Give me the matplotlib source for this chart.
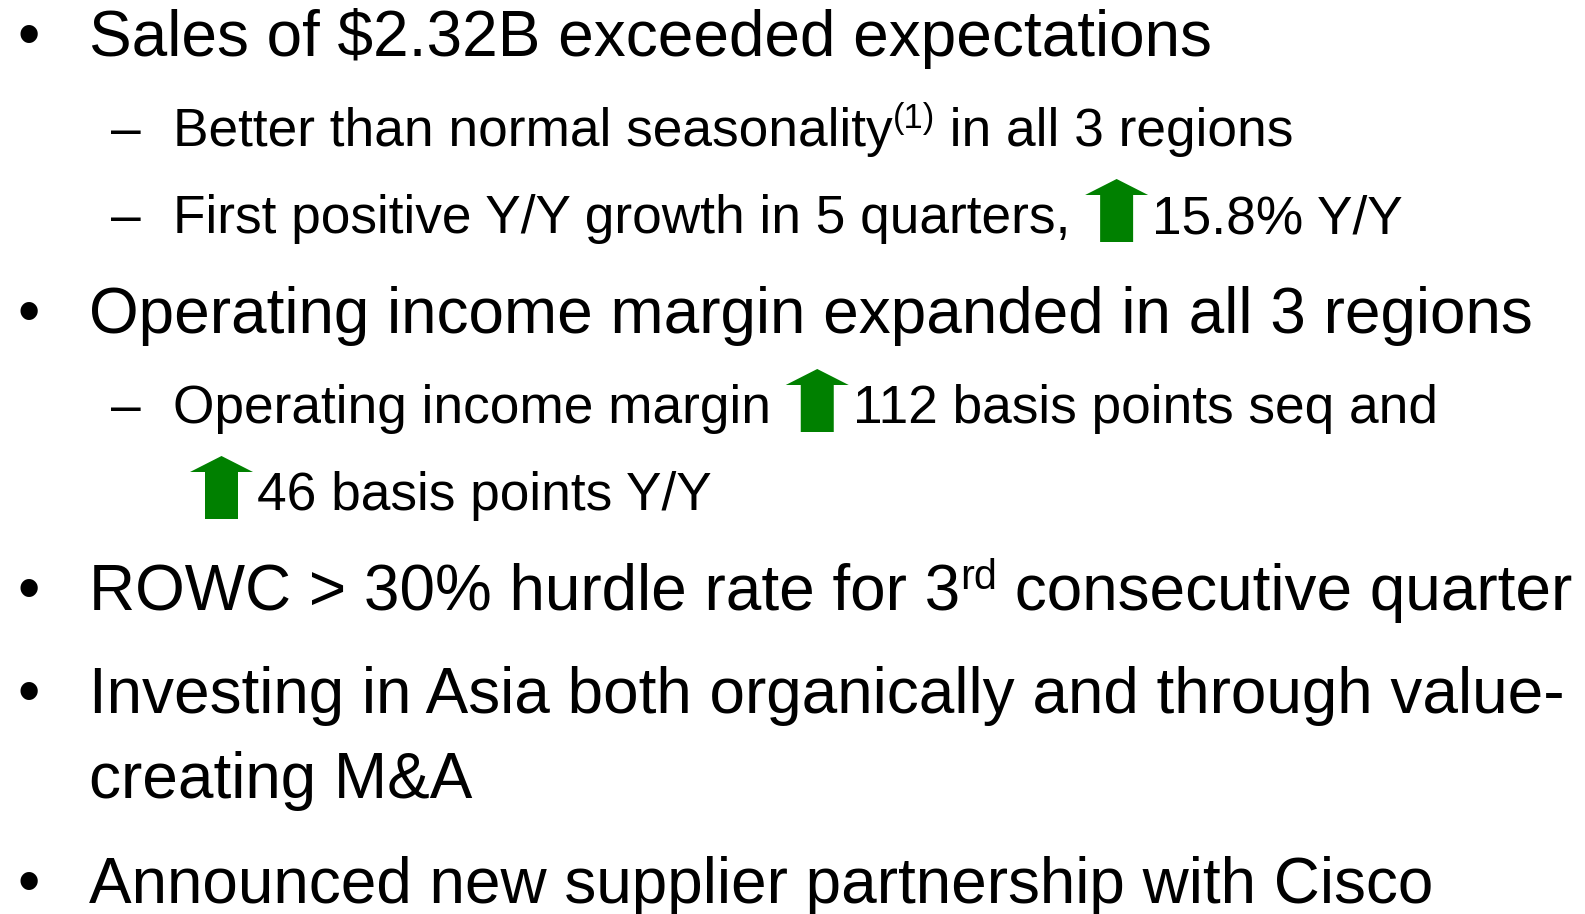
import matplotlib.pyplot as plt
from matplotlib.patches import Polygon

plt.rcParams['font.family'] = ['Liberation Sans', 'DejaVu Sans']

# slide content: (level, baseline y, segments)
# level 0 = bullet, 1 = dash, 2 = continuation of a dash line, 3 = continuation of a bullet line
lines = [
    (0, 56, [("txt", "Sales of \\$2.32B exceeded expectations")]),
    (1, 146, [("txt", "Better than normal seasonality"), ("sup", "(1)"), ("txt", " in all 3 regions")]),
    (1, 233, [("txt", "First positive Y/Y growth in 5 quarters, "), ("arrow", ""), ("txt", "15.8% Y/Y")]),
    (0, 333, [("txt", "Operating income margin expanded in all 3 regions")]),
    (1, 423, [("txt", "Operating income margin "), ("arrow", ""), ("txt", "112 basis points seq and")]),
    (2, 510, [("arrow", ""), ("txt", "46 basis points Y/Y")]),
    (0, 610, [("txt", "ROWC > 30% hurdle rate for 3"), ("sup", "rd"), ("txt", " consecutive quarter")]),
    (0, 713, [("txt", "Investing in Asia both organically and through value-")]),
    (3, 798, [("txt", "creating M&A")]),
    (0, 903, [("txt", "Announced new supplier partnership with Cisco")]),
]

W, H = 1585, 914
MAIN, SUB = 46, 38.3
GREEN = "#008000"

fig = plt.figure(figsize=(W / 100, H / 100), dpi=100)
ax = fig.add_axes([0, 0, 1, 1])
ax.set_xlim(0, W)
ax.set_ylim(H, 0)
ax.axis("off")
fig.canvas.draw()
renderer = fig.canvas.get_renderer()


def width_of(t):
    return t.get_window_extent(renderer).width


def up_arrow(x, base):
    w, h, shaft, head = 63, 63, 33, 16
    bottom = base + 9
    top = bottom - h
    cx = x + w / 2
    pts = [(cx - shaft / 2, bottom), (cx - shaft / 2, top + head), (x, top + head),
           (cx, top), (x + w, top + head), (cx + shaft / 2, top + head),
           (cx + shaft / 2, bottom)]
    ax.add_patch(Polygon(pts, closed=True, color=GREEN, lw=0))
    return w + 4


for level, y, segs in lines:
    size = MAIN if level in (0, 3) else SUB
    if level == 0:
        ax.text(17, y, "\u2022", fontsize=MAIN, va="baseline")
        x = 89
    elif level == 1:
        ax.text(111, y, "\u2013", fontsize=SUB, va="baseline")
        x = 173
    elif level == 2:
        x = 190
    else:
        x = 89
    for kind, s in segs:
        if kind == "txt":
            # measure with a marker so trailing spaces count
            t = ax.text(x, y, s, fontsize=size, va="baseline")
            m = ax.text(0, 0, s + "|", fontsize=size)
            bar = ax.text(0, 0, "|", fontsize=size)
            adv = width_of(m) - width_of(bar)
            m.remove()
            bar.remove()
            x += adv
        elif kind == "sup":
            ssize = size * 0.65
            raise_px = size * 1.389 * 0.33
            t = ax.text(x, y - raise_px, s, fontsize=ssize, va="baseline")
            x += width_of(t)
        else:
            x += up_arrow(x, y)

fig.savefig("out.png", dpi=100, facecolor="white")
